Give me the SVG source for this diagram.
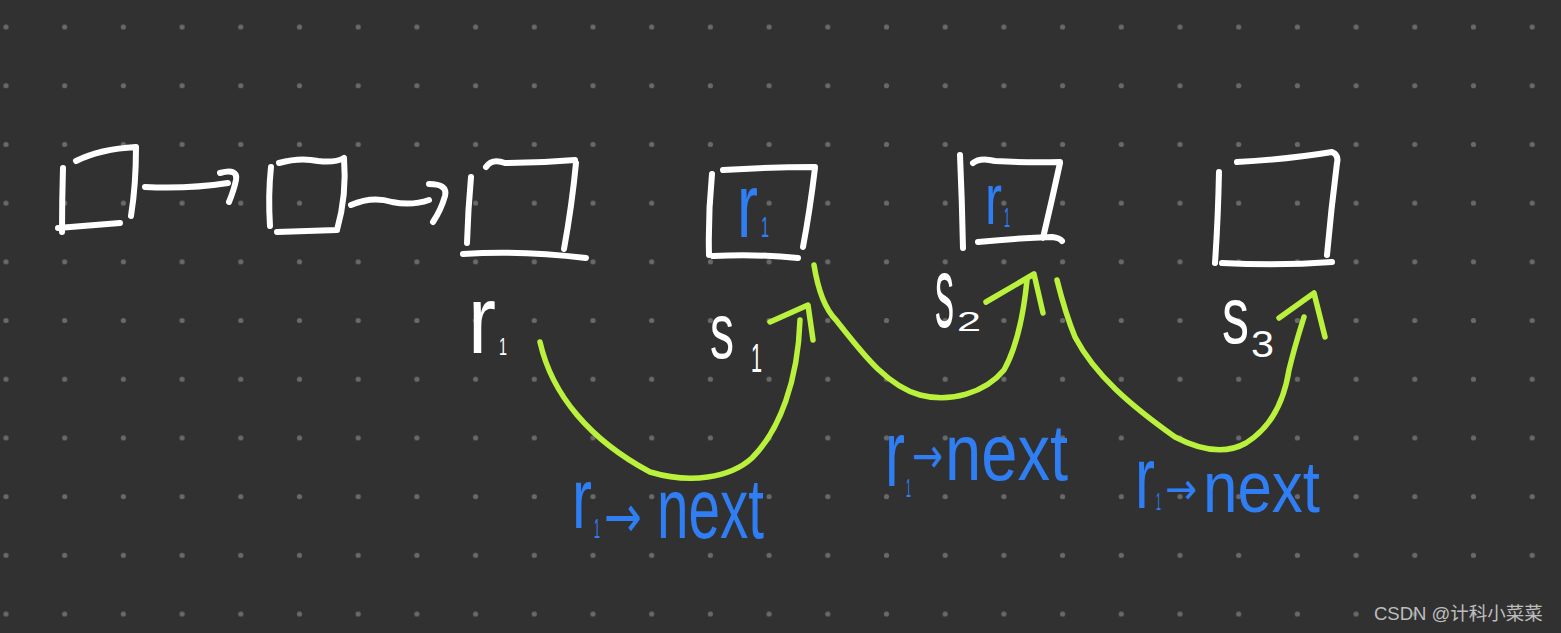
<svg xmlns="http://www.w3.org/2000/svg" width="1561" height="633" viewBox="0 0 1561 633">
<defs>
<pattern id="dots" patternUnits="userSpaceOnUse" x="-23.35" y="-2.35" width="58.7" height="58.7">
<circle cx="29.35" cy="29.35" r="2.6" fill="#696969"/>
</pattern>
<style>
.w{fill:none;stroke:#ffffff;stroke-width:6;stroke-linecap:round;stroke-linejoin:round}
.g{fill:none;stroke:#b9f13c;stroke-width:5.5;stroke-linecap:round;stroke-linejoin:round}
.tw{fill:#ffffff;font-family:"Liberation Sans",Arial,sans-serif}
.tb{fill:#2f7ef4;font-family:"Liberation Sans",Arial,sans-serif}
.ar{font-family:"DejaVu Sans",sans-serif}
.wm{fill:#bdbdbd;font-family:"Liberation Sans","Noto Sans CJK SC",sans-serif;font-size:18.5px}
</style>
</defs>
<rect width="1561" height="633" fill="#313131"/>
<rect width="1561" height="633" fill="url(#dots)"/>

<g id="node-1">
<path class="w" d="M63,168 Q62,200 62,232 M76,161 Q100,149 136,147 M136,147 Q136,185 131,216 M58,228 L120,223"/>
</g>
<g id="node-2">
<path class="w" d="M271,167 Q268,195 270,226 M279,163 Q300,157 318,161 Q335,163 344,158 M344,158 Q347,195 337,230 M277,232 L337,230"/>
</g>
<g id="node-3">
<path class="w" d="M471,177 Q468,210 467,243 M486,167 Q492,158 505,163 Q540,163 575,160 M576,163 Q572,205 564,249 M463,254 Q520,250 586,258"/>
<text class="tw"><tspan x="468" y="353" font-size="96" textLength="28" lengthAdjust="spacingAndGlyphs">r</tspan><tspan x="499" y="355" font-size="24" textLength="8" lengthAdjust="spacingAndGlyphs">1</tspan></text>
</g>
<g id="node-4">
<path class="w" d="M712,174 Q708,215 709,255 M723,170 Q770,167 815,167 M815,168 Q810,210 803,247 M713,256 Q760,254 798,258"/>
<text class="tb"><tspan x="737" y="237" font-size="90" textLength="21" lengthAdjust="spacingAndGlyphs">r</tspan><tspan x="761" y="237" font-size="30" textLength="8" lengthAdjust="spacingAndGlyphs">1</tspan></text>
<text class="tw"><tspan x="710" y="358" font-size="78" textLength="24" lengthAdjust="spacingAndGlyphs">s</tspan><tspan x="751" y="372" font-size="40" textLength="11" lengthAdjust="spacingAndGlyphs">1</tspan></text>
</g>
<g id="node-5">
<path class="w" d="M960,155 Q962,200 963,248 M973,163 Q980,157 995,161 Q1030,163 1060,162 M1060,163 Q1052,200 1043,238 M978,242 Q1020,238 1052,237 Q1060,238 1062,241"/>
<text class="tb"><tspan x="985" y="224" font-size="72" textLength="17" lengthAdjust="spacingAndGlyphs">r</tspan><tspan x="1004" y="227" font-size="28" textLength="6" lengthAdjust="spacingAndGlyphs">1</tspan></text>
<text class="tw"><tspan x="935" y="327" font-size="100" textLength="19" lengthAdjust="spacingAndGlyphs">s</tspan><tspan x="957" y="331" font-size="28" textLength="24" lengthAdjust="spacingAndGlyphs">2</tspan></text>
</g>
<g id="node-6">
<path class="w" d="M1219,172 Q1218,220 1215,263 M1237,162 Q1290,159 1332,152 Q1339,155 1337,163 M1337,163 Q1331,210 1327,255 M1222,263 Q1280,266 1332,262"/>
<text class="tw"><tspan x="1222" y="343" font-size="80" textLength="27" lengthAdjust="spacingAndGlyphs">s</tspan><tspan x="1251" y="357" font-size="36" textLength="23" lengthAdjust="spacingAndGlyphs">3</tspan></text>
</g>

<g id="connectors">
<path class="w" d="M145,187 Q190,189 228,183 M220,173 Q238,168 236,180 Q234,190 229,202"/>
<path class="w" d="M351,205 Q372,196 392,202 Q412,206 429,200 M429,184 Q448,184 445,196 Q441,210 433,222"/>
<path class="g" d="M540,342 C552,395 590,440 650,472 C690,484 730,478 752,458 C780,430 798,380 800,320 M770,322 L808,305 L813,340"/>
<path class="g" d="M814,265 C818,290 826,310 836,320 C860,350 885,385 920,395 C950,403 985,393 1004,370 C1018,345 1024,310 1027,280 M986,302 L1034,274 L1043,313"/>
<path class="g" d="M1057,280 C1062,300 1068,320 1075,337 C1095,375 1130,405 1175,437 C1200,450 1225,455 1246,443 C1275,425 1285,395 1289,370 C1295,345 1300,330 1304,317 M1279,318 L1314,293 L1325,337"/>
</g>

<g id="label-a">
<text class="tb"><tspan x="572" y="528" font-size="86" textLength="20" lengthAdjust="spacingAndGlyphs">r</tspan><tspan x="594" y="538" font-size="28" textLength="6" lengthAdjust="spacingAndGlyphs">1</tspan><tspan class="ar" x="604" y="537" font-size="60" textLength="38" lengthAdjust="spacingAndGlyphs">→</tspan><tspan x="657" y="538" font-size="86" textLength="107" lengthAdjust="spacingAndGlyphs">next</tspan></text>
</g>
<g id="label-b">
<text class="tb"><tspan x="885" y="486" font-size="95" textLength="20" lengthAdjust="spacingAndGlyphs">r</tspan><tspan x="906" y="497" font-size="26" textLength="5" lengthAdjust="spacingAndGlyphs">1</tspan><tspan class="ar" x="912" y="473" font-size="50" textLength="31" lengthAdjust="spacingAndGlyphs">→</tspan><tspan x="945" y="480" font-size="80" textLength="123" lengthAdjust="spacingAndGlyphs">next</tspan></text>
</g>
<g id="label-c">
<text class="tb"><tspan x="1135" y="508" font-size="88" textLength="20" lengthAdjust="spacingAndGlyphs">r</tspan><tspan x="1156" y="510" font-size="24" textLength="5" lengthAdjust="spacingAndGlyphs">1</tspan><tspan class="ar" x="1165" y="504" font-size="44" textLength="32" lengthAdjust="spacingAndGlyphs">→</tspan><tspan x="1203" y="512" font-size="72" textLength="117" lengthAdjust="spacingAndGlyphs">next</tspan></text>
</g>

<text class="wm" x="1374" y="620">CSDN @计科小菜菜</text>
</svg>
